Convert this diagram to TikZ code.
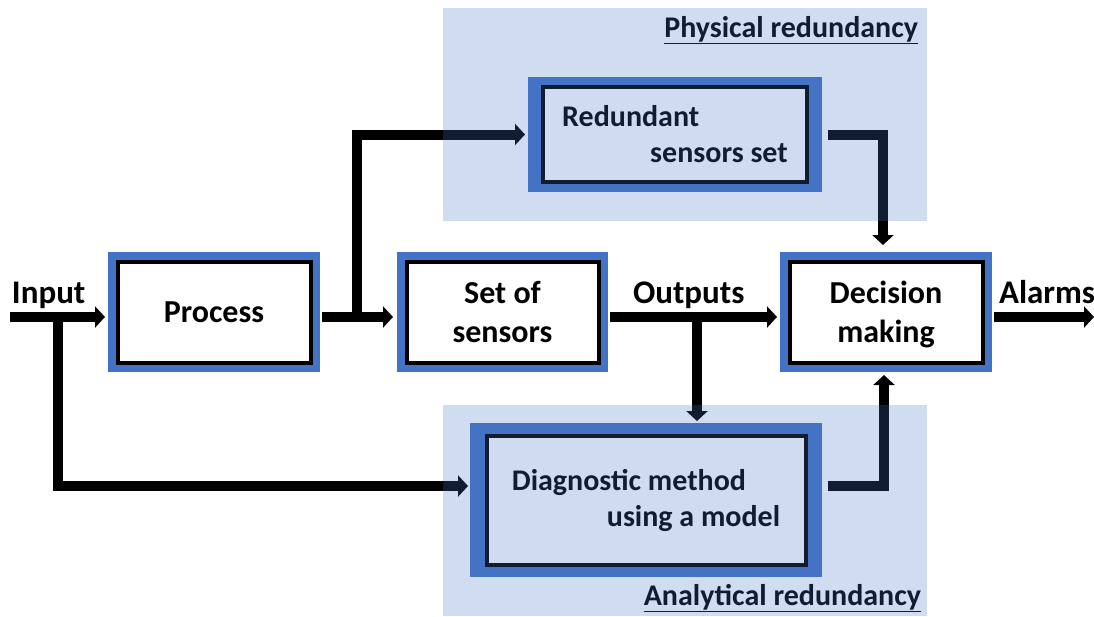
\documentclass[tikz,border=0pt]{standalone}
\usepackage{fontspec}
\setmainfont{Carlito}
\usetikzlibrary{arrows.meta}
\definecolor{boxblue}{HTML}{4472C4}
\tikzset{
  blk/.style 2 args={fill=boxblue, draw=none, inner sep=0pt, outer sep=0pt, align=center,
    path picture={\draw[black,line width=4pt,fill=white]
      ([shift={(#1+2pt,#2+2pt)}]path picture bounding box.south west) rectangle
      ([shift={(-#1-2pt,-#2-2pt)}]path picture bounding box.north east);}},
  mainfont/.style={font=\fontsize{32}{39}\selectfont\bfseries},
  subfont/.style={font=\fontsize{30}{36}\selectfont\bfseries},
  lbl/.style={inner sep=0pt, outer sep=0pt, font=\fontsize{33}{39}\selectfont\bfseries},
  plbl/.style={inner sep=0pt, outer sep=0pt, font=\fontsize{30}{36}\selectfont\bfseries},
  arr/.style={line width=10pt, -{Triangle[length=10pt,width=21pt]}},
  panel/.style={fill=boxblue, fill opacity=0.25},
}
\begin{document}
\begin{tikzpicture}[x=1pt,y=-1pt]
\useasboundingbox (0,0) rectangle (1094,616);
% boxes
\node[blk={7.5pt}{7.5pt}, mainfont, minimum width=212pt, minimum height=120pt] (p) at (214,312) {Process};
\node[blk={7.5pt}{7.5pt}, mainfont, minimum width=211pt, minimum height=120pt] (s) at (502.5,312) {Set of\\sensors};
\node[blk={7.5pt}{7.5pt}, mainfont, minimum width=212pt, minimum height=120pt] (d) at (886,312) {Decision\\\raisebox{0pt}[\height][0pt]{making}};
\node[blk={13pt}{8pt}, subfont, align=left, minimum width=294pt, minimum height=115pt] (r) at (675,134.5) {Redundant\\\hspace*{88pt}sensors set};
\node[blk={14.5pt}{10.5pt}, subfont, align=left, minimum width=352pt, minimum height=154pt] (g) at (646,500) {Diagnostic method\\\hspace*{95pt}using a model};
% labels
\node[lbl, anchor=base west] (tin) at (12,303) {Input};
\node[lbl, anchor=base west] (tout) at (633,303) {Outputs};
\node[lbl, anchor=base west] (talarm) at (999,303) {Alarms};
\node[plbl, anchor=base east] (tphys) at (918,37) {\underline{Physical redundancy}};
\node[plbl, anchor=base east] (tana) at (921,605) {\underline{Analytical redundancy}};
% coordinates
\coordinate (inS) at (10,317);
\coordinate (j0) at (58,317);
\coordinate (j1) at (357,317);
\coordinate (j2) at (697,317);
\coordinate (j3) at (58,486);
\coordinate (alE) at (1094,317);
% connectors
\draw[arr, shorten >=3pt] (inS) -- (p.west|-inS);
\draw[arr, shorten <=2pt, shorten >=4pt] (p.east|-j1) -- (s.west|-j1);
\draw[arr, shorten >=3pt] ([yshift=-5pt]j1) |- (r.west);
\draw[arr, shorten <=2pt, shorten >=3pt] (s.east|-j2) -- (d.west|-j2);
\draw[arr, shorten >=2pt] ([yshift=-5pt]j2) -- (j2|-g.north);
\draw[arr, shorten <=2pt] (d.east|-alE) -- (alE);
\draw[arr, shorten <=6pt, shorten >=7pt] (r.east) -| ([xshift=-3pt]d.north);
\draw[arr, shorten <=6pt, shorten >=3pt] (g.east|-j3) -| ([xshift=-2pt]d.south);
\draw[arr, shorten >=2pt] ([yshift=5pt]j0) |- (g.west|-j3);
% panels
\fill[panel] (443,8) rectangle (927,221);
\fill[panel] (443,405) rectangle (927,616);
\end{tikzpicture}
\end{document}
